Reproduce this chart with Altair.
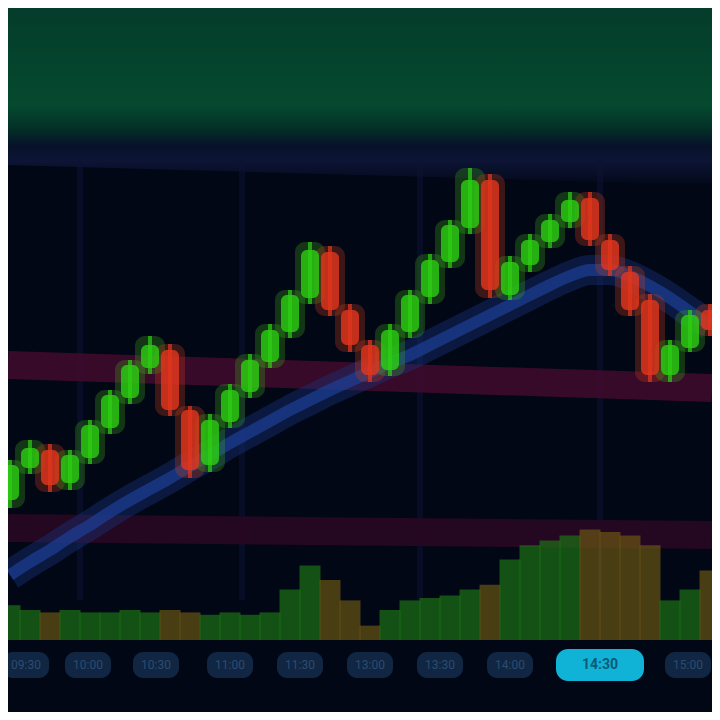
import altair as alt
import pandas as pd

# ---- data ----
idx = list(range(36))
opens = [55, 63, 67.5, 59.25, 65.5, 73, 80.5, 88, 92.5, 77.5, 63.75, 74.5, 82, 89.5, 97, 105.5,
         117, 102.5, 93.75, 87.5, 97, 105.75, 114.5, 123, 135, 106.25, 113.75, 119.5, 124.5, 130.5,
         120, 112, 105, 86.25, 93, 102.5]
closes = [63.75, 68, 58.75, 66.25, 73.75, 81.25, 88.75, 93.75, 77.5, 62.5, 75, 82.5, 90, 97.5, 106.25, 117.5,
          102.5, 93.75, 86.25, 97.5, 106.25, 115, 123.75, 135, 107.5, 114.5, 120, 125, 130, 120,
          112.5, 102.5, 86.25, 93.75, 101.25, 97.5]
highs = [65, 70, 69, 67.5, 75, 82.5, 90, 96, 94, 78.5, 76.5, 84, 91.5, 99, 107.5, 119.5,
         118.5, 104, 95, 99, 107.5, 116.5, 125, 138, 136.5, 116, 121.5, 126.5, 132, 132,
         121.5, 113.5, 106.5, 95, 102.5, 104]
lows = [53, 61.5, 57, 57.5, 64, 71.5, 79, 86.5, 76, 60.5, 62, 73, 80.5, 88, 95.5, 104,
        101, 92, 84.5, 86, 95.5, 104, 113, 121.5, 105.5, 105, 112, 118, 123, 118.5,
        111, 101, 84.5, 84.5, 92, 96]
volumes = [29, 25, 23, 25, 23, 23, 25, 23, 25, 23, 21, 23, 21, 23, 42, 62,
           50, 33, 12, 25, 33, 35, 37, 42, 46, 67, 79, 83, 87, 92,
           90, 87, 79, 33, 42, 58]
moving_avg = [36.25, 39.5, 42.5, 45.75, 48.75, 52, 55, 57.75, 60.5, 63.5, 66.25, 69.25, 72, 74.75,
              77.5, 80, 82.5, 84.75, 87, 89.25, 91.25, 93.75, 96.25, 98.75, 101.25, 103.75,
              106.25, 108.75, 111, 112.5, 112.5, 111, 108.5, 105.5, 102, 98.75]

# horizontal levels (start, end) drawn as slightly sloping bands
level_names = ["resistance", "support"]
level_x0 = [-0.1, -0.1]
level_x1 = [35.1, 35.1]
level_y0 = [88.75, 48]
level_y1 = [83, 46.25]

# top band boundary
band_x = [-0.1, 35.1]
band_top = [178, 178]
band_bottom = [138.75, 133.75]

grid_x = [3.5, 11.6, 20.5, 29.5]
grid_lo = [30] * len(grid_x)
grid_hi = [140] * len(grid_x)

label_pos = [0.8, 3.9, 7.3, 11, 14.5, 18, 21.5, 25, 33.9]
label_txt = ["09:30", "10:00", "10:30", "11:00", "11:30", "13:00", "13:30", "14:00", "15:00"]
label_level = 13.75
current_pos = [29.5]
current_txt = ["14:30"]

# ---- tables ----
df = pd.DataFrame({"i": idx, "open": opens, "close": closes, "high": highs,
                   "low": lows, "volume": volumes, "ma": moving_avg})
df["dir"] = ["up" if c >= o else "down" for o, c in zip(opens, closes)]
lv = pd.DataFrame({"name": level_names, "x0": level_x0, "x1": level_x1, "y0": level_y0, "y1": level_y1})
band = pd.DataFrame({"x": band_x, "top": band_top, "bottom": band_bottom})
grid = pd.DataFrame({"x": grid_x, "lo": grid_lo, "hi": grid_hi})
labels = pd.DataFrame({"x": label_pos, "t": label_txt, "y": [label_level] * len(label_pos)})
cur = pd.DataFrame({"x": current_pos, "t": current_txt, "y": [label_level]})

xs = alt.Scale(domain=[-0.1, 35.1], nice=False, zero=False, padding=0)
ys = alt.Scale(domain=[2, 178], nice=False, zero=False, padding=0)
X = lambda f: alt.X(f, type="quantitative", scale=xs, axis=None)
Y = lambda f: alt.Y(f, type="quantitative", scale=ys, axis=None)

dir_col = alt.Color("dir:N", scale=alt.Scale(domain=["up", "down"], range=["#2ccf12", "#e3361c"]), legend=None)
glow_col = alt.Color("dir:N", scale=alt.Scale(domain=["up", "down"], range=["#3aa51a", "#c2401c"]), legend=None)

top_band = alt.Chart(band).mark_area(
    color=alt.Gradient(gradient="linear", x1=0, x2=0, y1=0, y2=1,
                       stops=[alt.GradientStop(offset=0, color="#043d2b"),
                              alt.GradientStop(offset=0.55, color="#05492f"),
                              alt.GradientStop(offset=0.68, color="#033026"),
                              alt.GradientStop(offset=0.78, color="#07112a"),
                              alt.GradientStop(offset=0.86, color="#0d1536"),
                              alt.GradientStop(offset=1, color="#030818")])
).encode(x=X("x"), y=Y("top"), y2="bottom")

grid_l = alt.Chart(grid).mark_rule(color="#0b1232", strokeWidth=6, opacity=0.6).encode(
    x=X("x"), y=Y("lo"), y2="hi")

levels = alt.Chart(lv).mark_rule(strokeWidth=28, opacity=0.85).encode(
    x=X("x0"), x2="x1", y=Y("y0"), y2="y1",
    color=alt.Color("name:N", scale=alt.Scale(domain=level_names, range=["#420b2d", "#2a0722"]), legend=None))

ma_glow = alt.Chart(df).mark_line(color="#1a3580", strokeWidth=30, opacity=0.4, interpolate="monotone").encode(
    x=X("i"), y=Y("ma"))
ma_line = alt.Chart(df).mark_line(color="#1d3f95", strokeWidth=12, opacity=0.7, interpolate="monotone").encode(
    x=X("i"), y=Y("ma"))

vol = alt.Chart(df).mark_bar(size=21, opacity=0.65).encode(
    x=X("i"),
    y=alt.Y("volume:Q", scale=alt.Scale(domain=[0, 100], range=[632, 512], nice=False, padding=0), axis=None),
    color=alt.Color("dir:N", scale=alt.Scale(domain=["up", "down"], range=["#1f7a16", "#6e5a12"]), legend=None))

glow = alt.Chart(df).mark_bar(size=30, opacity=0.3, cornerRadius=10).encode(
    x=X("i"), y=Y("low"), y2="high", color=glow_col)
wick = alt.Chart(df).mark_rule(strokeWidth=4, opacity=0.7).encode(
    x=X("i"), y=Y("low"), y2="high", color=dir_col)
body = alt.Chart(df).mark_bar(size=18, opacity=0.8, cornerRadius=6).encode(
    x=X("i"), y=Y("open"), y2="close", color=dir_col)

lab_box = alt.Chart(labels).mark_rect(width=46, height=26, cornerRadius=10, color="#132a48", opacity=0.9).encode(
    x=X("x"), y=Y("y"))
lab_txt = alt.Chart(labels).mark_text(color="#2b4c70", font="Roboto", fontSize=12).encode(
    x=X("x"), y=Y("y"), text="t:N")
cur_box = alt.Chart(cur).mark_rect(width=88, height=32, cornerRadius=12, color="#10b2d6").encode(
    x=X("x"), y=Y("y"))
cur_txt = alt.Chart(cur).mark_text(color="#0a5a78", font="Roboto", fontSize=14, fontWeight="bold").encode(
    x=X("x"), y=Y("y"), text="t:N")

chart = alt.layer(top_band, grid_l, levels, ma_glow, ma_line, vol, glow, wick, body,
                  lab_box, lab_txt, cur_box, cur_txt).resolve_scale(
    y="independent", color="independent"
).properties(
    width=704, height=704, padding=0,
    autosize=alt.AutoSizeParams(type="none"),
    background="#020716"
).configure_view(stroke=None, fill="#020716", clip=True)

chart.save("out.html", embed_options={"renderer": "svg", "actions": False})
